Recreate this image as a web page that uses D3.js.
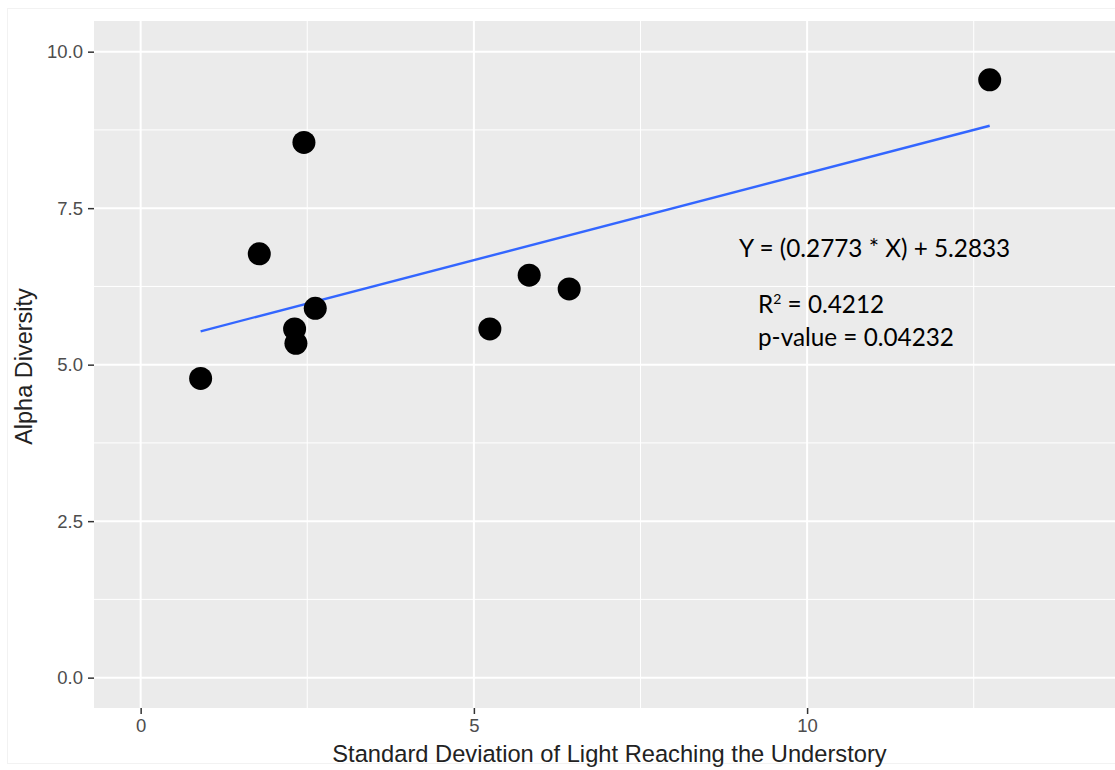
<!DOCTYPE html>
<html>
<head>
<meta charset="utf-8">
<script src="https://cdn.jsdelivr.net/npm/d3@7"></script>
<style>
  html, body { margin: 0; padding: 0; background: #fff; }
  svg { display: block; }
</style>
</head>
<body>
<svg id="chart" width="1115" height="770"></svg>
<script>
// ---- data ----
const lightSD   = [0.90, 1.78, 2.45, 2.62, 2.31, 2.33, 5.24, 5.83, 6.43, 12.74];
const alphaDiv  = [4.78, 6.77, 8.55, 5.90, 5.57, 5.34, 5.57, 6.43, 6.21, 9.55];
const slope = 0.2773, intercept = 5.2833;
const xTicks = [0, 5, 10];
const xMinor = [2.5, 7.5, 12.5];
const yTicks = [0, 2.5, 5, 7.5, 10];
const yMinor = [1.25, 3.75, 6.25, 8.75];
const xTickLabels = ["0", "5", "10"];
const yTickLabels = ["0.0", "2.5", "5.0", "7.5", "10.0"];
const annotations = [
  {text: "Y = (0.2773 * X) + 5.2833", sup: null},
  {text: "R", sup: "2", rest: " = 0.4212"},
  {text: "p-value = 0.04232", sup: null}
];

// ---- layout ----
const panel = {left: 94, right: 1115, top: 21, bottom: 708};
const svg = d3.select("#chart");

const x = d3.scaleLinear().domain([-0.70, 14.62]).range([panel.left, panel.right]);
const y = d3.scaleLinear().domain([-0.485, 10.49]).range([panel.bottom, panel.top]);

// faint outer frame
svg.append("rect").attr("x", 7.5).attr("y", 8.5).attr("width", 1120).attr("height", 755)
  .attr("fill", "none").attr("stroke", "#f2f2f2").attr("stroke-width", 1);

// panel background
svg.append("rect").attr("x", panel.left).attr("y", panel.top)
  .attr("width", panel.right - panel.left).attr("height", panel.bottom - panel.top)
  .attr("fill", "#EBEBEB");

const grid = svg.append("g");
// minor grid
grid.selectAll(".ymin").data(yMinor).enter().append("line")
  .attr("x1", panel.left).attr("x2", panel.right)
  .attr("y1", d => y(d)).attr("y2", d => y(d))
  .attr("stroke", "#fff").attr("stroke-width", 1);
grid.selectAll(".xmin").data(xMinor).enter().append("line")
  .attr("y1", panel.top).attr("y2", panel.bottom)
  .attr("x1", d => x(d)).attr("x2", d => x(d))
  .attr("stroke", "#fff").attr("stroke-width", 1);
// major grid
grid.selectAll(".ymaj").data(yTicks).enter().append("line")
  .attr("x1", panel.left).attr("x2", panel.right)
  .attr("y1", d => y(d)).attr("y2", d => y(d))
  .attr("stroke", "#fff").attr("stroke-width", 2);
grid.selectAll(".xmaj").data(xTicks).enter().append("line")
  .attr("y1", panel.top).attr("y2", panel.bottom)
  .attr("x1", d => x(d)).attr("x2", d => x(d))
  .attr("stroke", "#fff").attr("stroke-width", 2);

// axes
const xAxis = d3.axisBottom(x).tickValues(xTicks)
  .tickFormat((d, i) => xTickLabels[i]).tickSize(6).tickPadding(5);
const yAxis = d3.axisLeft(y).tickValues(yTicks)
  .tickFormat((d, i) => yTickLabels[i]).tickSize(6).tickPadding(5);

const gx = svg.append("g").attr("transform", `translate(0,${panel.bottom})`).call(xAxis);
const gy = svg.append("g").attr("transform", `translate(${panel.left},0)`).call(yAxis);
[gx, gy].forEach(g => {
  g.select(".domain").remove();
  g.selectAll(".tick line").attr("stroke", "#333").attr("stroke-width", 1.5);
  g.selectAll(".tick text").attr("fill", "#4D4D4D")
    .style("font-family", "Liberation Sans, Arial, sans-serif").style("font-size", "18.5px");
});

// regression line
const xExt = d3.extent(lightSD);
svg.append("line")
  .attr("x1", x(xExt[0])).attr("y1", y(slope * xExt[0] + intercept))
  .attr("x2", x(xExt[1])).attr("y2", y(slope * xExt[1] + intercept))
  .attr("stroke", "#3366FF").attr("stroke-width", 2.4);

// points
svg.append("g").selectAll("circle").data(lightSD).enter().append("circle")
  .attr("cx", d => x(d)).attr("cy", (d, i) => y(alphaDiv[i]))
  .attr("r", 11.5).attr("fill", "#000");

// axis titles
svg.append("text").attr("x", 609.5).attr("y", 762)
  .attr("text-anchor", "middle").attr("fill", "#222")
  .style("font-family", "Liberation Sans, Arial, sans-serif").style("font-size", "23.7px")
  .text("Standard Deviation of Light Reaching the Understory");
svg.append("text").attr("transform", `translate(32,${(panel.top + panel.bottom) / 2 + 2}) rotate(-90)`)
  .attr("text-anchor", "middle").attr("fill", "#222")
  .style("font-family", "Liberation Sans, Arial, sans-serif").style("font-size", "23.5px")
  .text("Alpha Diversity");

// annotations
const ann = svg.append("g").style("font-family", "Lato, Carlito, Calibri, sans-serif")
  .style("font-size", "24.3px").attr("fill", "#000");
ann.append("text").attr("x", 739).attr("y", 257).text(annotations[0].text);
const r2 = ann.append("text").attr("x", 758).attr("y", 313);
r2.append("tspan").text(annotations[1].text);
r2.append("tspan").attr("dy", -9).style("font-size", "14px").text(annotations[1].sup);
r2.append("tspan").attr("dy", 9).text(annotations[1].rest);
ann.append("text").attr("x", 758).attr("y", 346).text(annotations[2].text);
</script>
</body>
</html>
